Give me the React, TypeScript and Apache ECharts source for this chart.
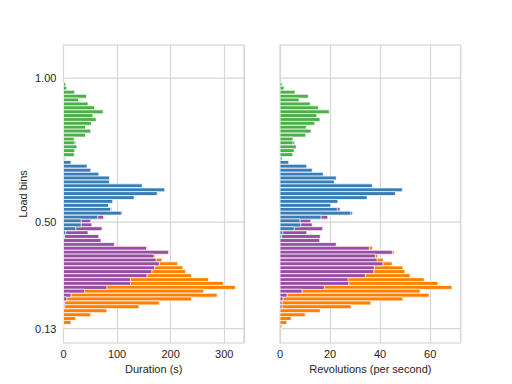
import React, { useEffect, useRef } from "react";
import * as echarts from "echarts";

const N = null;

// Load bin of each row (top to bottom)
const loadBins = [
  0.978, 0.965, 0.951, 0.937, 0.924, 0.910, 0.897, 0.883, 0.870, 0.856,
  0.843, 0.829, 0.816, 0.802, 0.788, 0.775, 0.761, 0.748, 0.734, 0.721,
  0.707, 0.694, 0.680, 0.666, 0.653, 0.639, 0.626, 0.612, 0.599, 0.585,
  0.572, 0.558, 0.544, 0.531, 0.517, 0.504, 0.490, 0.477, 0.463, 0.450,
  0.436, 0.422, 0.409, 0.395, 0.382, 0.368, 0.355, 0.341, 0.328, 0.314,
  0.300, 0.287, 0.273, 0.260, 0.246, 0.233, 0.219, 0.206, 0.192, 0.178,
  0.165, 0.151, 0.138,
];

const yTickValues = [0.13, 0.5, 1.0];

// Duration (s)
const durationGreen = [
  4, 6, 21, 43, 28, 46, 58, 74, 55, 61, 52, 41, 51, 41, 20, 21, 25, 21, 20, 2,
  N, N, N, N, N, N, N, N, N, N, N, N, N, N, N, N, N, N, N, N,
  N, N, N, N, N, N, N, N, N, N, N, N, N, N, N, N, N, N, N, N,
  N, N, N,
];
const durationBlue = [
  N, N, N, N, N, N, N, N, N, N, N, N, N, N, N, 23, N, N, N, 4,
  14, 44, 51, 66, 86, 86, 147, 189, 175, 132, 92, 84, 88, 108, 64, 33, 33, 23, 4, 2,
  N, N, N, N, N, N, N, N, N, N, N, N, N, N, N, N, N, N, N, N,
  N, N, N,
];
const durationPurple = [
  N, N, N, N, N, N, N, N, N, N, N, N, N, N, N, N, N, N, N, N,
  N, N, N, N, N, N, N, N, N, N, N, N, 90, 110, 75, 51, 53, 72, 46, 66,
  70, 95, 155, 196, 169, 173, 179, 170, 165, 156, 125, 125, 81, 39, 14, 6, 2, 2, N, N,
  N, N, N,
];
const durationOrange = [
  N, N, N, N, N, N, N, N, N, N, N, N, N, N, N, N, N, N, N, N,
  N, N, N, N, N, N, N, N, N, N, N, N, N, N, N, N, N, N, N, N,
  N, N, 157, 198, 172, 184, 213, 223, 228, 239, 271, 298, 321, 262, 287, 239, 179, 141, 81, 51,
  23, 14, 1.5,
];

// Revolutions (per second)
const revGreen = [
  0.8, 1.6, 6, 11.3, 7.6, 12.1, 15.3, 19.7, 14.7, 16, 13.9, 10.5, 12.4, 10.3, 5.2, 5.2, 6.5, 5.7, 5.1, 0.4,
  N, N, N, N, N, N, N, N, N, N, N, N, N, N, N, N, N, N, N, N,
  N, N, N, N, N, N, N, N, N, N, N, N, N, N, N, N, N, N, N, N,
  N, N, N,
];
const revBlue = [
  N, N, N, N, N, N, N, N, N, N, N, N, N, N, N, 5.9, N, N, N, 1,
  3.5, 10.7, 12.9, 17.3, 22.5, 21.7, 36.9, 48.9, 46.1, 34.8, 23.1, 20.3, 22.9, 28.3, 16.4, 8, 8.3, 5.7, 1.1, 0.6,
  N, N, N, N, N, N, N, N, N, N, N, N, N, N, N, N, N, N, N, N,
  N, N, N,
];
const revPurple = [
  N, N, N, N, N, N, N, N, N, N, N, N, N, N, N, N, N, N, N, N,
  N, N, N, N, N, N, N, N, N, N, N, N, 24, 29, 19.1, 12.3, 12.9, 17.1, 10.7, 16.1,
  15.9, 22.5, 35.7, 44.9, 38.1, 38.8, 41.1, 37.7, 37.5, 34.1, 27.2, 27.5, 17.7, 8.8, 2.8, 1.2, 0.8, 0.8, N, N,
  N, N, N,
];
const revOrange = [
  N, N, N, N, N, N, N, N, N, N, N, N, N, N, N, N, N, N, N, N,
  N, N, N, N, N, N, N, N, N, N, N, N, N, N, N, N, N, N, N, N,
  N, N, 37, 45.6, 39.1, 41.3, 44.8, 49.1, 49.9, 52, 57.6, 63.1, 68.7, 56, 59.6, 49.1, 36.3, 28.4, 16.1, 10.1,
  4.5, 2.7, 0.7,
];

const COLORS = {
  orange: "#ff7f00",
  purple: "#984ea3",
  blue: "#377eb8",
  green: "#4daf4a",
};

const FONT = "'Liberation Sans', Arial, sans-serif";
const TEXT = "#262626";
const GRID = "#d6d6d6";

function toPairs(vals: (number | null)[]) {
  const out: number[][] = [];
  vals.forEach((v, i) => {
    if (v != null) out.push([v, loadBins[i]]);
  });
  return out;
}

function barSeries(name: string, color: string, vals: (number | null)[], idx: number) {
  return {
    type: "custom",
    name,
    xAxisIndex: idx,
    yAxisIndex: idx,
    data: toPairs(vals),
    encode: { x: 0, y: 1 },
    renderItem: (_params: any, api: any) => {
      const v = api.value(0);
      const y = api.value(1);
      const p0 = api.coord([0, y]);
      const p1 = api.coord([v, y]);
      const h = 3.9;
      return {
        type: "rect",
        shape: { x: p0[0], y: p0[1] - h / 2, width: p1[0] - p0[0], height: h },
        style: { fill: color, stroke: "rgba(255,255,255,0.85)", lineWidth: 0.9 },
      };
    },
  };
}

function gridLineSeries(idx: number) {
  return {
    type: "custom",
    xAxisIndex: idx,
    yAxisIndex: idx,
    silent: true,
    data: yTickValues.map((t) => [0, t]),
    encode: { x: 0, y: 1 },
    renderItem: (params: any, api: any) => {
      const cs = params.coordSys;
      const p = api.coord([0, api.value(1)]);
      return {
        type: "line",
        shape: { x1: cs.x, y1: p[1], x2: cs.x + cs.width, y2: p[1] },
        style: { stroke: GRID, lineWidth: 1.2 },
      };
    },
  };
}

function xAxis(idx: number, max: number, interval: number, name: string) {
  return {
    type: "value",
    gridIndex: idx,
    min: 0,
    max,
    interval,
    name,
    nameLocation: "middle",
    nameGap: 19,
    nameTextStyle: { fontSize: 11, color: TEXT, fontFamily: FONT },
    axisLine: { show: false },
    axisTick: { show: false },
    axisLabel: { fontSize: 11, color: TEXT, fontFamily: FONT, margin: 5, showMaxLabel: false },
    splitLine: { show: true, lineStyle: { color: GRID, width: 1.2 } },
  };
}

function yAxis(idx: number, showLabels: boolean) {
  return {
    type: "value",
    gridIndex: idx,
    min: 0.08,
    max: 1.115,
    name: showLabels ? "Load bins" : "",
    nameLocation: "middle",
    nameGap: 35,
    nameTextStyle: { fontSize: 11, color: TEXT, fontFamily: FONT },
    axisLine: { show: false },
    axisTick: { show: false },
    splitLine: { show: false },
    axisLabel: {
      show: showLabels,
      customValues: yTickValues,
      formatter: (v: number) => v.toFixed(2),
      fontSize: 11,
      color: TEXT,
      fontFamily: FONT,
      margin: 7,
    },
  };
}

export default function App() {
  const ref = useRef<HTMLDivElement>(null);
  useEffect(() => {
    document.body.style.margin = "0";
    const chart = echarts.init(ref.current!, null, { renderer: "svg" });
    chart.setOption({
      animation: false,
      backgroundColor: "#ffffff",
      grid: [
        { left: 63.5, right: 268, top: 45, bottom: 41, show: true, borderColor: "#cccccc", borderWidth: 1 },
        { left: 280, right: 51.3, top: 45, bottom: 41, show: true, borderColor: "#cccccc", borderWidth: 1 },
      ],
      xAxis: [
        xAxis(0, 337, 100, "Duration (s)"),
        xAxis(1, 72.2, 20, "Revolutions (per second)"),
      ],
      yAxis: [yAxis(0, true), yAxis(1, false)],
      series: [
        gridLineSeries(0),
        gridLineSeries(1),
        barSeries("orange", COLORS.orange, durationOrange, 0),
        barSeries("purple", COLORS.purple, durationPurple, 0),
        barSeries("blue", COLORS.blue, durationBlue, 0),
        barSeries("green", COLORS.green, durationGreen, 0),
        barSeries("orange", COLORS.orange, revOrange, 1),
        barSeries("purple", COLORS.purple, revPurple, 1),
        barSeries("blue", COLORS.blue, revBlue, 1),
        barSeries("green", COLORS.green, revGreen, 1),
      ],
    });
    return () => chart.dispose();
  }, []);
  return (
    <div
      ref={ref}
      style={{ position: "absolute", left: 0, top: 0, width: 512, height: 384 }}
    />
  );
}
